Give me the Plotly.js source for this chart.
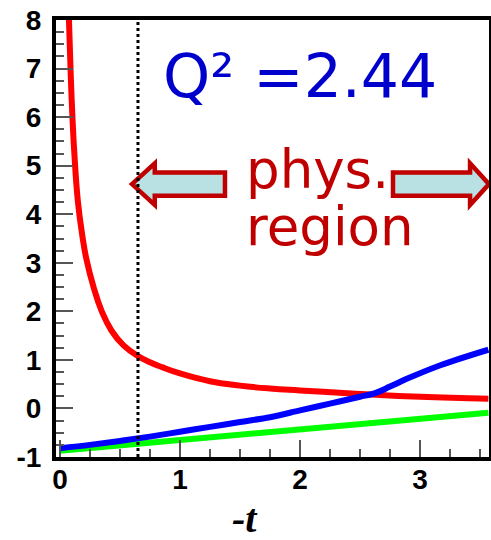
<!DOCTYPE html>
<html>
<head>
<meta charset="utf-8">
<script src="https://cdn.plot.ly/plotly-3.0.1.min.js"></script>
<style>
  html, body { margin: 0; padding: 0; background: #fff; }
  #chart { width: 491px; height: 540px; }
</style>
</head>
<body>
<div id="chart"></div>
<script>
// Curves versus -t
const redX = [0.075, 0.09, 0.105, 0.12, 0.15, 0.19, 0.22, 0.28, 0.35, 0.43, 0.53, 0.65, 0.75, 0.85, 1.0, 1.25, 1.5, 1.75, 2.0, 2.5, 3.0, 3.57];
const redY = [8.0, 6.85, 5.95, 5.25, 4.25, 3.5, 3.08, 2.5, 1.99, 1.6, 1.30, 1.08, 0.95, 0.85, 0.72, 0.56, 0.47, 0.41, 0.37, 0.30, 0.24, 0.20];

const blueX = [0, 0.25, 0.5, 0.75, 1.0, 1.25, 1.5, 1.75, 2.0, 2.25, 2.5, 2.62, 2.75, 2.89, 3.17, 3.57];
const blueY = [-0.82, -0.75, -0.67, -0.58, -0.48, -0.38, -0.28, -0.18, -0.04, 0.10, 0.24, 0.31, 0.45, 0.61, 0.89, 1.21];

const greenX = [0, 1, 2, 3, 3.57];
const greenY = [-0.87, -0.65, -0.43, -0.21, -0.09];

// Physical-region threshold in -t
const tMin = 0.65;

const xTicks = [0, 1, 2, 3];
const yTicks = [-1, 0, 1, 2, 3, 4, 5, 6, 7, 8];

const q2Label = 'Q² =2.44';
const physLabel = 'phys.';
const regionLabel = 'region';
const xLabel = '<i>-t</i>';

// Block arrow outline: tip, head base, tail, centre height, half heights
function blockArrow(tipX, baseX, tailX, yc, headH, shaftH) {
  return 'M ' + tipX + ' ' + yc +
    ' L ' + baseX + ' ' + (yc + headH) +
    ' L ' + baseX + ' ' + (yc + shaftH) +
    ' L ' + tailX + ' ' + (yc + shaftH) +
    ' L ' + tailX + ' ' + (yc - shaftH) +
    ' L ' + baseX + ' ' + (yc - shaftH) +
    ' L ' + baseX + ' ' + (yc - headH) + ' Z';
}

const arrowStyle = {
  type: 'path', xref: 'x', yref: 'y', layer: 'below',
  fillcolor: '#b9e1e3',
  line: { color: '#c00000', width: 4.5 }
};

const traces = [
  { x: redX, y: redY, mode: 'lines', line: { color: '#ff0000', width: 6, shape: 'spline', smoothing: 1.3 }, hoverinfo: 'none' },
  { x: greenX, y: greenY, mode: 'lines', line: { color: '#00ff00', width: 6 }, hoverinfo: 'none' },
  { x: blueX, y: blueY, mode: 'lines', line: { color: '#0000ff', width: 6, shape: 'spline', smoothing: 1 }, hoverinfo: 'none' },
  { x: [tMin, tMin], y: [-1, 8], mode: 'lines', line: { color: '#000', width: 3, dash: 'dot' }, hoverinfo: 'none' }
];

const tickFont = { family: 'Liberation Sans, Arial, sans-serif', size: 28, color: '#000', weight: 'bold' };

const layout = {
  width: 491, height: 540,
  margin: { l: 56, r: 2, t: 20, b: 83 },
  paper_bgcolor: '#fff', plot_bgcolor: '#fff',
  showlegend: false,
  xaxis: {
    range: [-0.033, 3.575],
    tickvals: xTicks, ticktext: xTicks.map(String),
    ticks: 'inside', ticklen: 17, tickwidth: 2, tickcolor: '#555',
    minor: { dtick: 0.25, ticks: 'inside', ticklen: 8, tickwidth: 2, tickcolor: '#555', showgrid: false },
    showgrid: false, zeroline: false,
    showline: true, linecolor: '#000', linewidth: 4, mirror: true,
    tickfont: tickFont, ticklabelstandoff: -6
  },
  yaxis: {
    range: [-1, 8],
    tickvals: yTicks, ticktext: yTicks.map(String),
    ticks: 'inside', ticklen: 17, tickwidth: 2, tickcolor: '#555',
    minor: { dtick: 0.25, ticks: 'inside', ticklen: 8, tickwidth: 2, tickcolor: '#555', showgrid: false },
    showgrid: false, zeroline: false,
    showline: true, linecolor: '#000', linewidth: 4, mirror: true,
    tickfont: tickFont, ticklabelstandoff: 5
  },
  shapes: [
    Object.assign({ path: blockArrow(0.6, 0.79, 1.375, 4.62, 0.43, 0.24) }, arrowStyle),
    Object.assign({ path: blockArrow(3.575, 3.417, 2.775, 4.62, 0.43, 0.24) }, arrowStyle)
  ],
  annotations: [
    {
      text: q2Label, xref: 'x', yref: 'y', x: 2.0, y: 6.84,
      xanchor: 'center', yanchor: 'middle', showarrow: false,
      font: { family: 'DejaVu Sans, sans-serif', size: 60, color: '#0000cc' }
    },
    {
      text: physLabel, xref: 'x', yref: 'y', x: 1.53, y: 4.92,
      xanchor: 'left', yanchor: 'middle', align: 'left', showarrow: false,
      font: { family: 'DejaVu Sans, sans-serif', size: 53, color: '#c00000' }
    },
    {
      text: regionLabel, xref: 'x', yref: 'y', x: 1.53, y: 3.74,
      xanchor: 'left', yanchor: 'middle', align: 'left', showarrow: false,
      font: { family: 'DejaVu Sans, sans-serif', size: 53, color: '#c00000' }
    },
    {
      text: xLabel, xref: 'x', yref: 'paper', x: 1.54, y: -0.14,
      xanchor: 'center', yanchor: 'middle', showarrow: false,
      font: { family: 'Liberation Serif, Times New Roman, serif', size: 40, color: '#000', weight: 'bold' }
    }
  ]
};

Plotly.newPlot('chart', traces, layout, { staticPlot: true, displayModeBar: false });
</script>
</body>
</html>
